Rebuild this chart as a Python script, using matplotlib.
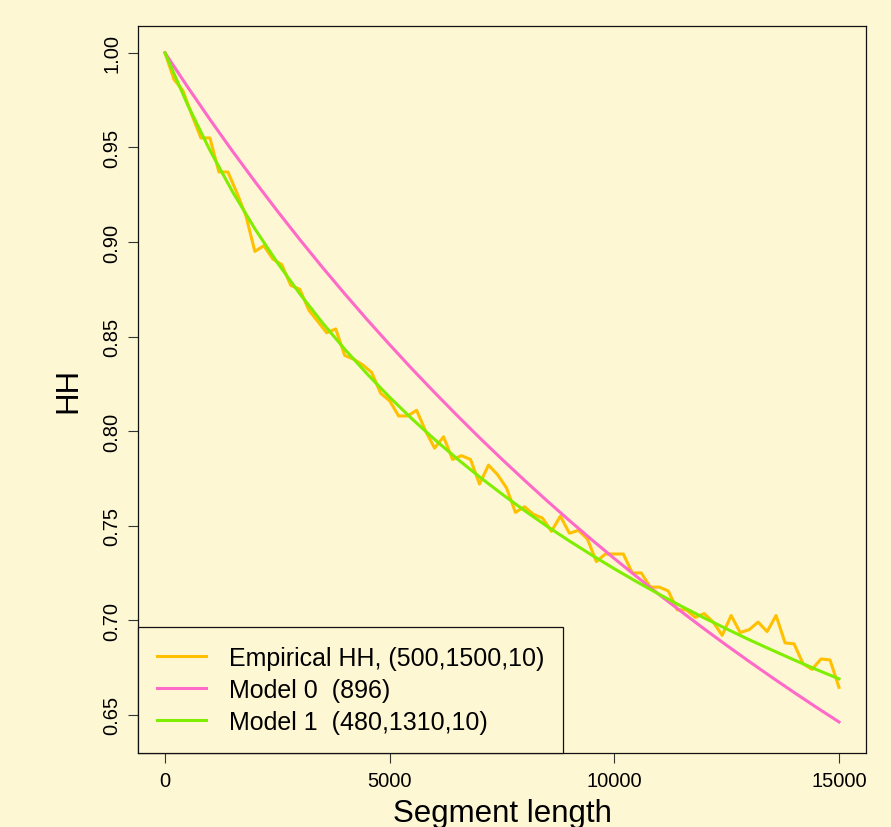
import matplotlib
matplotlib.use("Agg")
import matplotlib.pyplot as plt
import numpy as np

plt.rcParams['font.family'] = ['Liberation Sans', 'DejaVu Sans']

bg = '#FEF7D4'

# empirical HH, one value every 200 bp
emp_x = np.arange(0, 15001, 200)
emp_hh = [1.000, 0.986, 0.980, 0.967, 0.955, 0.955, 0.937, 0.937, 0.926, 0.914,
          0.895, 0.898, 0.891, 0.888, 0.877, 0.875, 0.864, 0.858, 0.852, 0.854,
          0.840, 0.838, 0.835, 0.831, 0.820, 0.816, 0.808, 0.808, 0.811, 0.800,
          0.791, 0.797, 0.785, 0.787, 0.785, 0.772, 0.782, 0.777, 0.770, 0.757,
          0.760, 0.756, 0.754, 0.747, 0.755, 0.746, 0.7475, 0.743, 0.731, 0.735,
          0.735, 0.735, 0.725, 0.725, 0.7175, 0.7175, 0.7155, 0.7055, 0.7055, 0.7015,
          0.7035, 0.699, 0.692, 0.7025, 0.6935, 0.695, 0.699, 0.694, 0.7025, 0.688,
          0.6875, 0.677, 0.674, 0.6795, 0.679, 0.6645]

# model curves, one value every 500 bp
mod_x = np.arange(0, 15001, 500)
model0 = [1.0000, 0.9821, 0.9648, 0.9481, 0.9320, 0.9164, 0.9013, 0.8867, 0.8726, 0.8589,
          0.8457, 0.8328, 0.8204, 0.8083, 0.7965, 0.7851, 0.7740, 0.7632, 0.7527, 0.7425,
          0.7326, 0.7230, 0.7135, 0.7044, 0.6954, 0.6867, 0.6782, 0.6699, 0.6618, 0.6539,
          0.6462]
model1 = [1.0000, 0.9727, 0.9485, 0.9267, 0.9070, 0.8891, 0.8726, 0.8574, 0.8433, 0.8302,
          0.8179, 0.8064, 0.7956, 0.7854, 0.7758, 0.7667, 0.7580, 0.7497, 0.7419, 0.7344,
          0.7272, 0.7203, 0.7137, 0.7073, 0.7012, 0.6954, 0.6897, 0.6843, 0.6790, 0.6739,
          0.6690]

labels = ['Empirical HH, (500,1500,10)', 'Model 0  (896)', 'Model 1  (480,1310,10)']
colors = ['#FFC000', '#FF69C8', '#80EE00']

fig = plt.figure(figsize=(8.91, 8.28), dpi=100, facecolor=bg)
ax = fig.add_axes([0.1549, 0.0894, 0.8170, 0.8780])
ax.set_facecolor(bg)

ax.plot(emp_x, emp_hh, color=colors[0], lw=2.2, label=labels[0])
ax.plot(mod_x, model0, color=colors[1], lw=2.2, label=labels[1])
ax.plot(mod_x, model1, color=colors[2], lw=2.2, label=labels[2])

ax.set_xlim(-600, 15600)
ax.set_ylim(0.6298, 1.0142)
ax.set_xticks([0, 5000, 10000, 15000])
ax.set_yticks([0.65, 0.70, 0.75, 0.80, 0.85, 0.90, 0.95, 1.00])
ax.set_yticklabels(['%.2f' % v for v in ax.get_yticks()], rotation=90, va='center')
ax.tick_params(direction='out', length=7, width=0.8, labelsize=14.5, color='#333333')
ax.tick_params(axis='y', pad=5)
ax.tick_params(axis='x', pad=6)
for s in ax.spines.values():
    s.set_linewidth(0.9)
    s.set_color('#111111')

ax.set_xlabel('Segment length', fontsize=22.5, labelpad=6)
ax.set_ylabel('HH', fontsize=22.5, labelpad=14)

leg = ax.legend(loc='lower left', bbox_to_anchor=(0, 0), borderaxespad=0,
                fontsize=18, frameon=True, fancybox=False, edgecolor='#111111',
                facecolor=bg, framealpha=1, handlelength=1.95, handletextpad=0.95,
                borderpad=0.75, labelspacing=0.33)
leg.get_frame().set_linewidth(0.9)
for h in leg.get_lines():
    h.set_linewidth(2.2)

fig.savefig('out.png', dpi=100, facecolor=bg)
